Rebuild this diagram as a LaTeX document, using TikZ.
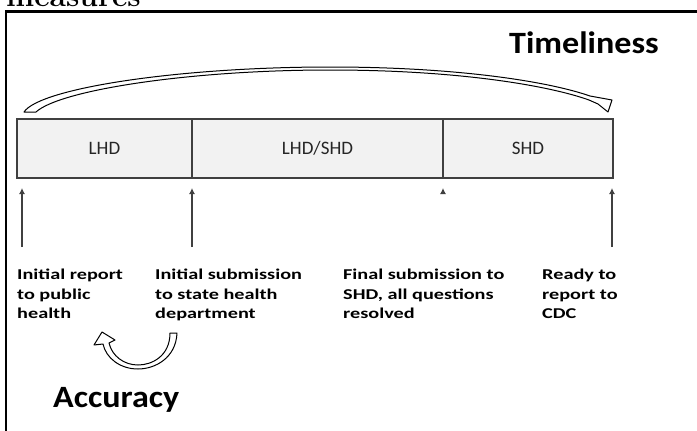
\documentclass[tikz,border=0pt]{standalone}
\usepackage{fontspec}
\newfontfamily\calib{Carlito}
\newfontfamily\calibwide[FakeStretch=1.35]{Carlito}
\newfontfamily\calibhead[FakeStretch=1.1]{Carlito}
\usetikzlibrary{arrows.meta,positioning}
\definecolor{barfill}{HTML}{F2F2F2}
\definecolor{dg}{HTML}{404040}
\tikzset{
    seg/.style =    {rectangle,
                    fill=barfill,
                    draw=dg,
                    line width=1.2pt,
                    text=black!85,
                    minimum height=59pt,
                    inner sep=0pt,
                    outer sep=0pt,
                    font=\calib\fontsize{19}{22}\selectfont},
    up/.style =     {-{Latex[length=6pt,width=6pt]},
                    line width=2.4pt,
                    draw=dg},
    lbl/.style =    {anchor=north west,
                    align=left,
                    inner sep=0pt,
                    font=\calibwide\bfseries\fontsize{15}{19.5}\selectfont},
    big/.style =    {anchor=base west,
                    inner sep=0pt,
                    font=\calibhead\bfseries\fontsize{31}{36}\selectfont},
    band/.style =   {fill=white,
                    draw=black,
                    line width=1pt,
                    line join=round}}

\begin{document}
\begin{tikzpicture}[x=1pt,y=-1pt]
    \useasboundingbox (0,0) rectangle (697,431);
    % cut-off caption and frame
    \node[anchor=base west, inner sep=0pt, font=\bfseries\fontsize{30}{30}\selectfont] (CAP) at (6,6) {measures};
    \draw[line width=2.5pt] (6,445) -- (6,11.5) -- (705,11.5);

    % the bar
    \node[seg, minimum width=175pt, anchor=north west] (LHD) at (17,119) {LHD};
    \node[seg, minimum width=251pt, right=0pt of LHD]  (MID) {LHD/SHD};
    \node[seg, minimum width=170pt, right=0pt of MID]  (SHD) {SHD};

    % milestones
    \coordinate (T1) at (22,247);  \coordinate (H1) at (22,188);
    \coordinate (T2) at (192,247); \coordinate (H2) at (192,188);
    \coordinate (T3) at (443,194); \coordinate (H3) at (443,188);
    \coordinate (T4) at (612,247); \coordinate (H4) at (612,188);
    \draw[up] (T1) -- (H1);
    \draw[up] (T2) -- (H2);
    \draw[up] (T3) -- (H3);
    \draw[up] (T4) -- (H4);

    \node[lbl] (L1) at (17,269)  {Initial report\\to public\\health};
    \node[lbl] (L2) at (155,269) {Initial submission\\to state health\\department};
    \node[lbl] (L3) at (343,269) {Final submission to\\SHD, all questions\\resolved};
    \node[lbl] (L4) at (542,269) {Ready to\\report to\\CDC};

    % curved arrows
    \filldraw[band] (24,112) .. controls (40,88) and (180,67) .. (330,67)
        .. controls (460,67) and (550,82) .. (590,96) -- (612,100) -- (608,112)
        -- (598,104) -- (589,100) .. controls (550,86) and (460,70) .. (330,70)
        .. controls (190,70) and (60,90) .. (36,112) -- cycle;
    \node[big] (TIME) at (509,53) {Timeliness};

    \filldraw[band] (177,333) .. controls (176,358) and (155,369) .. (138,369)
        .. controls (120,369) and (106,358) .. (103,344) -- (94,345) -- (102,332)
        -- (115,340) -- (109,343) .. controls (112,356) and (124,365) .. (138,365)
        .. controls (152,365) and (170,356) .. (170,333) -- cycle;
    \node[big] (ACC) at (53,407) {Accuracy};
\end{tikzpicture}
\end{document}
